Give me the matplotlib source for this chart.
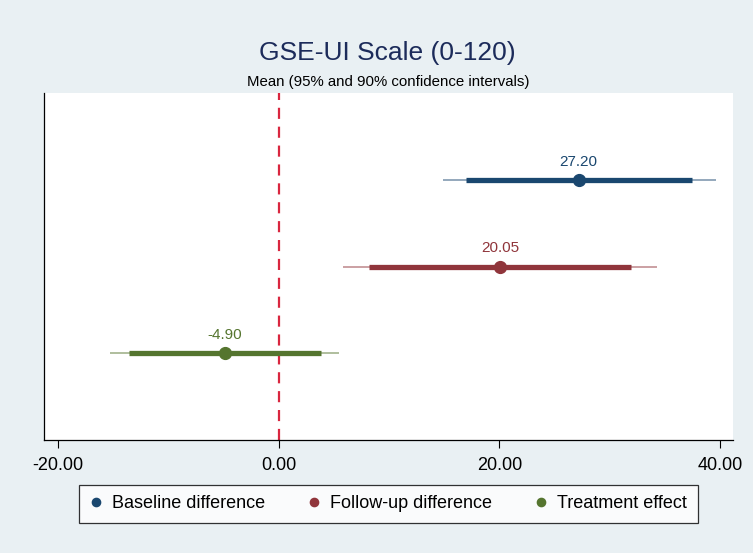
import matplotlib.pyplot as plt

plt.rcParams['font.family'] = ['Liberation Sans', 'DejaVu Sans']

# data
labels = ['Baseline difference', 'Follow-up difference', 'Treatment effect']
means = [27.20, 20.05, -4.90]
ci95_lo = [14.9, 5.8, -15.3]
ci95_hi = [39.6, 34.3, 5.5]
ci90_lo = [17.0, 8.2, -13.6]
ci90_hi = [37.5, 31.9, 3.8]
rows = [3, 2, 1]
colors = ['#1a476f', '#90353b', '#55752f']
xticks = [-20, 0, 20, 40]

bg = '#e9f0f3'
fig = plt.figure(figsize=(7.53, 5.53), dpi=100, facecolor=bg)
ax = fig.add_axes([0.0584, 0.2043, 0.915, 0.6275])
ax.set_facecolor('white')

for i in range(len(labels)):
    y = rows[i]
    c = colors[i]
    ax.plot([ci95_lo[i], ci95_hi[i]], [y, y], color=c, lw=1.2, alpha=0.55,
            solid_capstyle='butt', zorder=2)
    ax.plot([ci90_lo[i], ci90_hi[i]], [y, y], color=c, lw=3.8,
            solid_capstyle='butt', zorder=3)
    ax.plot(means[i], y, 'o', color=c, markersize=8.5, zorder=4, label=labels[i])
    ax.annotate(f'{means[i]:.2f}', (means[i], y), xytext=(0, 13),
                textcoords='offset points', ha='center', va='center',
                color=c, fontsize=11)

ax.axvline(0, color='#d9263f', lw=1.6, linestyle=(0, (5, 3.5)), zorder=1)

ax.set_xlim(-21.27, 41.18)
ax.set_ylim(0, 4)
ax.set_xticks(xticks)
ax.set_xticklabels([f'{t:.2f}' for t in xticks], fontsize=13)
ax.set_yticks([])
ax.tick_params(axis='x', direction='out', length=6, width=0.8, pad=6)
ax.spines['top'].set_visible(False)
ax.spines['right'].set_visible(False)
ax.spines['left'].set_linewidth(0.9)
ax.spines['bottom'].set_linewidth(0.9)

fig.text(0.515, 1 - 53 / 553, 'GSE-UI Scale (0-120)', ha='center', va='center',
         fontsize=19, color='#1c2b5a')
fig.text(0.515, 1 - 82 / 553, 'Mean (95% and 90% confidence intervals)',
         ha='center', va='center', fontsize=10.8, color='black')

leg = ax.legend(loc='center', bbox_to_anchor=(0.5, -0.184), ncol=3,
                fontsize=13, frameon=True, fancybox=False, edgecolor='black',
                handlelength=0.6, handletextpad=0.6, columnspacing=2.4,
                markerscale=0.7, borderpad=0.6)
leg.get_frame().set_linewidth(0.9)

fig.savefig('out.png', dpi=100, facecolor=bg)
